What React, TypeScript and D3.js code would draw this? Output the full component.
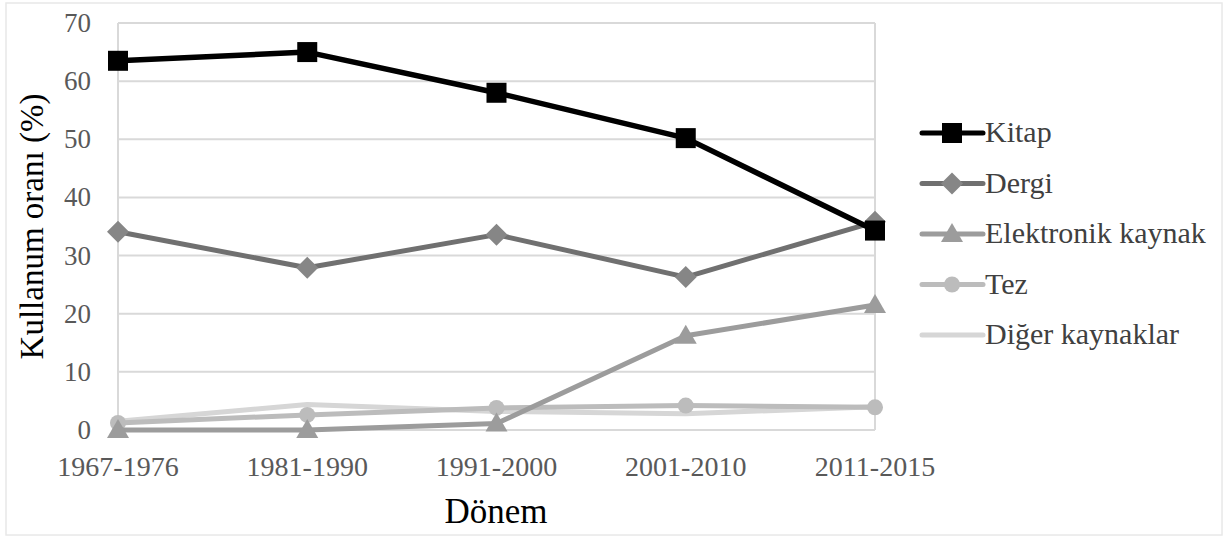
import React, {useEffect, useRef} from 'react'
import * as d3 from 'd3'

const periods = ['1967-1976', '1981-1990', '1991-2000', '2001-2010', '2011-2015']
const seriesNames = ['Kitap', 'Dergi', 'Elektronik kaynak', 'Tez', 'Diğer kaynaklar']
const kitap = [63.5, 65.0, 58.0, 50.2, 34.3]
const dergi = [34.1, 27.9, 33.6, 26.3, 35.8]
const elektronik = [0, 0, 1.1, 16.2, 21.5]
const tez = [1.2, 2.6, 3.8, 4.2, 3.9]
const diger = [1.5, 4.4, 3.2, 2.8, 4.0]
const yTicks = [0, 10, 20, 30, 40, 50, 60, 70]

const colors = ['#000000', '#707070', '#9c9c9c', '#bcbcbc', '#d6d6d6']
const markers = ['square', 'diamond', 'triangle', 'circle', 'none']

const W = 1226
const H = 537
const FONT = 'Liberation Serif'

export default function App() {
    const svgRef = useRef<SVGSVGElement>(null)

    useEffect(() => {
        const svg = d3.select(svgRef.current)
        svg.selectAll('*').remove()

        const values = [kitap, dergi, elektronik, tez, diger]
        const left = 118, right = 875, top = 23, bottom = 430

        const x = d3.scalePoint<string>().domain(periods).range([left, right])
        const y = d3.scaleLinear().domain([0, 70]).range([bottom, top])

        // faint outer frame
        svg.append('rect')
            .attr('x', 6).attr('y', 3).attr('width', W - 10).attr('height', H - 5)
            .attr('fill', 'none').attr('stroke', '#e8e8e8').attr('stroke-width', 1.5)

        // gridlines
        svg.append('g').selectAll('line').data(yTicks).join('line')
            .attr('x1', left).attr('x2', right)
            .attr('y1', d => y(d)).attr('y2', d => y(d))
            .attr('stroke', '#d9d9d9').attr('stroke-width', 2)
        svg.append('g').selectAll('line').data([left, right]).join('line')
            .attr('x1', d => d).attr('x2', d => d)
            .attr('y1', top).attr('y2', bottom)
            .attr('stroke', '#d9d9d9').attr('stroke-width', 2)

        // y tick labels
        svg.append('g').selectAll('text').data(yTicks).join('text')
            .attr('x', 91).attr('y', d => y(d) + 9)
            .attr('text-anchor', 'end')
            .style('font-family', FONT).attr('font-size', 27).attr('fill', '#595959')
            .text(d => d)

        // x tick labels
        svg.append('g').selectAll('text').data(periods).join('text')
            .attr('x', d => x(d)!).attr('y', 476)
            .attr('text-anchor', 'middle')
            .style('font-family', FONT).attr('font-size', 28).attr('fill', '#595959')
            .text(d => d)

        // axis titles
        svg.append('text')
            .attr('transform', `translate(43,${(top + bottom) / 2}) rotate(-90)`)
            .attr('text-anchor', 'middle')
            .style('font-family', FONT).attr('font-size', 33).attr('fill', '#000')
            .text('Kullanum oranı (%)')
        svg.append('text')
            .attr('x', 496).attr('y', 523)
            .attr('text-anchor', 'middle')
            .style('font-family', FONT).attr('font-size', 35).attr('fill', '#000')
            .text('Dönem')

        const drawMarker = (g: any, type: string, cx: number, cy: number, color: string) => {
            if (type === 'square') {
                g.append('rect').attr('x', cx - 10).attr('y', cy - 10)
                    .attr('width', 20).attr('height', 20).attr('fill', color)
            } else if (type === 'diamond') {
                g.append('path')
                    .attr('d', `M${cx},${cy - 11}L${cx + 11},${cy}L${cx},${cy + 11}L${cx - 11},${cy}Z`)
                    .attr('fill', d3.color(color)!.brighter(0.5).toString())
            } else if (type === 'triangle') {
                g.append('path')
                    .attr('d', `M${cx},${cy - 11}L${cx + 11},${cy + 8}L${cx - 11},${cy + 8}Z`)
                    .attr('fill', color)
            } else if (type === 'circle') {
                g.append('circle').attr('cx', cx).attr('cy', cy).attr('r', 8).attr('fill', color)
            }
        }

        const line = d3.line<number>()
            .x((_, i) => x(periods[i])!)
            .y(d => y(d))

        // draw from back series to front
        for (let s = values.length - 1; s >= 0; s--) {
            const g = svg.append('g')
            g.append('path')
                .attr('d', line(values[s])!)
                .attr('fill', 'none')
                .attr('stroke', colors[s])
                .attr('stroke-width', s === 0 ? 5.5 : 5)
                .attr('stroke-linejoin', 'round')
            values[s].forEach((v, i) => drawMarker(g, markers[s], x(periods[i])!, y(v), colors[s]))
        }

        // legend
        const legend = svg.append('g')
        seriesNames.forEach((name, i) => {
            const ly = 133 + i * 50.5
            legend.append('line')
                .attr('x1', 922).attr('x2', 983).attr('y1', ly).attr('y2', ly)
                .attr('stroke', colors[i]).attr('stroke-width', 5)
                .attr('stroke-linecap', 'round')
            drawMarker(legend, markers[i], 952, ly, colors[i])
            legend.append('text')
                .attr('x', 985).attr('y', ly + 9)
                .style('font-family', FONT).attr('font-size', 30).attr('fill', '#404040')
                .text(name)
        })
    }, [])

    return (
        <div>
            <svg ref={svgRef} width={W} height={H}
                 style={{position: 'absolute', left: 0, top: 0, background: '#fff'}}/>
        </div>
    )
}
